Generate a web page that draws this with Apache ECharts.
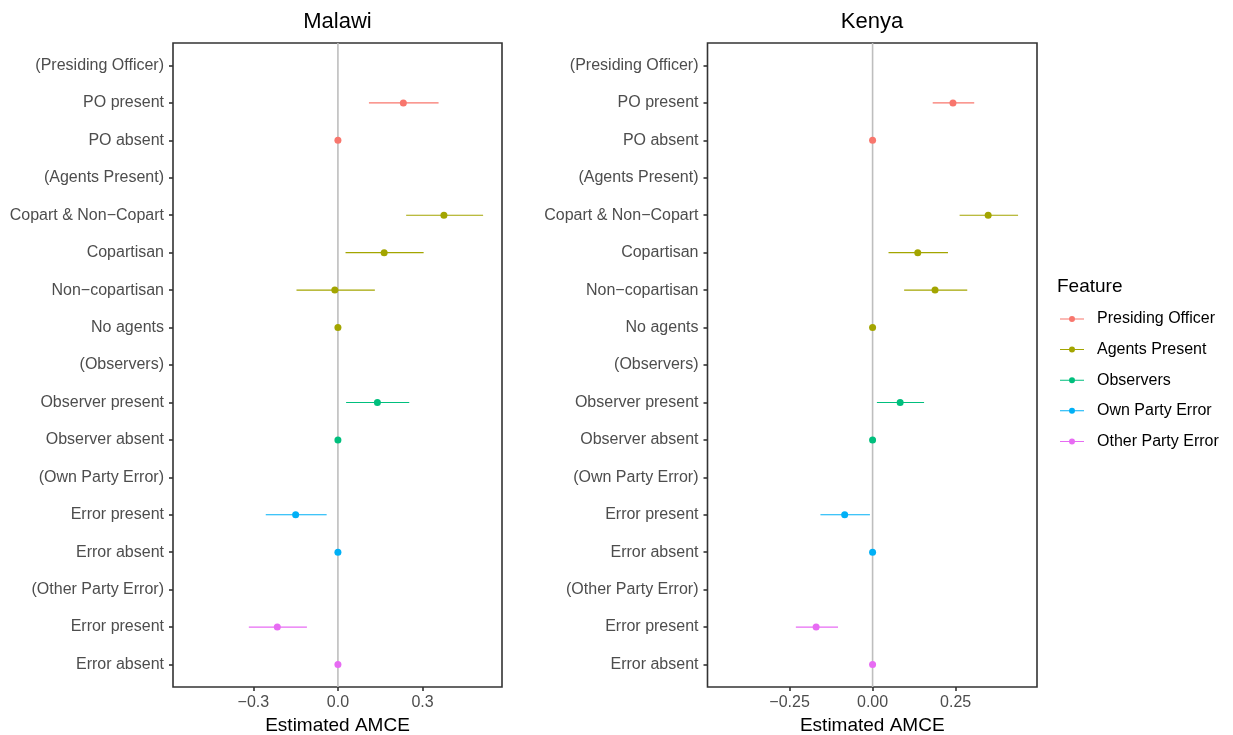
<!DOCTYPE html>
<html>
<head>
<meta charset="utf-8">
<script src="https://cdn.jsdelivr.net/npm/echarts@6/dist/echarts.min.js"></script>
<style>html,body{margin:0;padding:0;background:#fff}#c{width:1233px;height:735px}</style>
</head>
<body>
<div id="c"></div>
<script>
const categories = ['(Presiding Officer)','PO present','PO absent','(Agents Present)','Copart & Non\u2212Copart','Copartisan','Non\u2212copartisan','No agents','(Observers)','Observer present','Observer absent','(Own Party Error)','Error present','Error absent','(Other Party Error)','Error present','Error absent'];
const features = ['Presiding Officer','Agents Present','Observers','Own Party Error','Other Party Error'];
const featureColors = ['#F8766D','#A3A500','#00BF7D','#00B0F6','#E76BF3'];
const categoryFeature = [0,0,0,1,1,1,1,1,2,2,2,3,3,3,4,4,4];
const categoryIndex = [0,1,2,3,4,5,6,7,8,9,10,11,12,13,14,15,16];

const malawiEst = [null,0.232,0,null,0.376,0.164,-0.011,0,null,0.140,0,null,-0.150,0,null,-0.215,0];
const malawiLo  = [null,0.110,null,null,0.242,0.027,-0.147,null,null,0.029,null,null,-0.256,null,null,-0.316,null];
const malawiHi  = [null,0.357,null,null,0.515,0.304,0.131,null,null,0.253,null,null,-0.040,null,null,-0.110,null];

const kenyaEst = [null,0.242,0,null,0.348,0.136,0.188,0,null,0.083,0,null,-0.084,0,null,-0.170,0];
const kenyaLo  = [null,0.181,null,null,0.262,0.048,0.095,null,null,0.013,null,null,-0.157,null,null,-0.231,null];
const kenyaHi  = [null,0.306,null,null,0.438,0.227,0.285,null,null,0.155,null,null,-0.008,null,null,-0.104,null];

const malawiTicks = [-0.3, 0, 0.3];
const malawiTickLabels = ['\u22120.3','0.0','0.3'];
const kenyaTicks = [-0.25, 0, 0.25];
const kenyaTickLabels = ['\u22120.25','0.00','0.25'];

const panelTitles = ['Malawi','Kenya'];
const xTitle = 'Estimated AMCE';
const legendTitle = 'Feature';

const Y_MIN = -0.6, Y_MAX = 16.6;
const FONT = '"Liberation Sans", Arial, Helvetica, sans-serif';
const chart = echarts.init(document.getElementById('c'), null, {renderer:'canvas'});

function xAxisFor(gi, min, max, ticks, tickLabels){
  return {
    type:'value', gridIndex:gi, min:min, max:max,
    axisLine:{show:false, onZero:false},
    splitLine:{show:false},
    axisTick:{show:true, length:4, customValues:ticks, lineStyle:{color:'#333', width:1.6}},
    axisLabel:{show:true, customValues:ticks, margin:8, color:'#4D4D4D', fontSize:16, fontFamily:FONT,
      formatter:function(v){ const i = ticks.findIndex(t=>Math.abs(t-v)<1e-9); return i>=0?tickLabels[i]:''; }},
    name:xTitle, nameLocation:'middle', nameGap:26,
    nameTextStyle:{color:'#000', fontSize:19, fontFamily:FONT}
  };
}
function yAxisFor(gi){
  return {
    type:'value', gridIndex:gi, min:Y_MIN, max:Y_MAX, inverse:true,
    axisLine:{show:false, onZero:false},
    splitLine:{show:false},
    axisTick:{show:true, length:4, customValues:categoryIndex, lineStyle:{color:'#333', width:1.6}},
    axisLabel:{show:true, customValues:categoryIndex, margin:9, color:'#4D4D4D', fontSize:16, fontFamily:FONT,
      formatter:function(v){ return categories[Math.round(v)]; }}
  };
}

function renderBar(params, api){
  const a = api.coord([api.value(0), api.value(2)]);
  const b = api.coord([api.value(1), api.value(2)]);
  return {type:'line', shape:{x1:a[0], y1:a[1], x2:b[0], y2:b[1]},
    style:{stroke:api.visual('color'), lineWidth:1.1}};
}

const series = [];
[[malawiEst, malawiLo, malawiHi],[kenyaEst, kenyaLo, kenyaHi]].forEach(function(d, gi){
  series.push({
    type:'line', xAxisIndex:gi, yAxisIndex:gi, silent:true, z:1,
    symbol:'none', lineStyle:{color:'#BEBEBE', width:1.6},
    data:[[0, Y_MIN],[0, Y_MAX]]
  });
  features.forEach(function(f, fi){
    const bars = [], pts = [];
    categoryIndex.forEach(function(i){
      if (categoryFeature[i] !== fi) return;
      if (d[1][i] !== null) bars.push([d[1][i], d[2][i], i]);
      if (d[0][i] !== null) pts.push([d[0][i], i]);
    });
    series.push({
      name:f, type:'custom', xAxisIndex:gi, yAxisIndex:gi, z:2,
      itemStyle:{color:featureColors[fi]},
      renderItem:renderBar, encode:{x:[0,1], y:2}, data:bars
    });
    series.push({
      name:f, type:'scatter', xAxisIndex:gi, yAxisIndex:gi, z:3,
      symbol:'circle', symbolSize:7,
      itemStyle:{color:featureColors[fi], opacity:1},
      data:pts
    });
  });
});

const option = {
  animation:false,
  backgroundColor:'#fff',
  textStyle:{fontFamily:FONT},
  title:[
    {text:panelTitles[0], left:337.5, top:11, textAlign:'center', padding:0,
      textStyle:{color:'#000', fontSize:22, fontWeight:'normal', fontFamily:FONT}},
    {text:panelTitles[1], left:872, top:11, textAlign:'center', padding:0,
      textStyle:{color:'#000', fontSize:22, fontWeight:'normal', fontFamily:FONT}},
    {text:legendTitle, left:1057, top:277, padding:0,
      textStyle:{color:'#000', fontSize:19, fontWeight:'normal', fontFamily:FONT}}
  ],
  grid:[
    {left:173, top:43, width:329, height:644, show:true, borderColor:'#333', borderWidth:1.6, backgroundColor:'#fff', containLabel:false, outerBoundsMode:'none'},
    {left:707.5, top:43, width:329.5, height:644, show:true, borderColor:'#333', borderWidth:1.6, backgroundColor:'#fff', containLabel:false, outerBoundsMode:'none'}
  ],
  xAxis:[
    xAxisFor(0, -0.585, 0.582, malawiTicks, malawiTickLabels),
    xAxisFor(1, -0.497, 0.495, kenyaTicks, kenyaTickLabels)
  ],
  yAxis:[yAxisFor(0), yAxisFor(1)],
  legend:{
    orient:'vertical', left:1060, top:311, padding:0, itemWidth:24, itemHeight:6, itemGap:14.6,
    icon:'path://M0,2.5 L24,2.5 L24,3.5 L0,3.5 Z M12,0 A3,3 0 1,1 12,6 A3,3 0 1,1 12,0 Z',
    data:features, selectedMode:false,
    textStyle:{color:'#000', fontSize:16, lineHeight:16, fontFamily:FONT, padding:[0,0,0,8]}
  },
  series:series
};
chart.setOption(option);
</script>
</body>
</html>
